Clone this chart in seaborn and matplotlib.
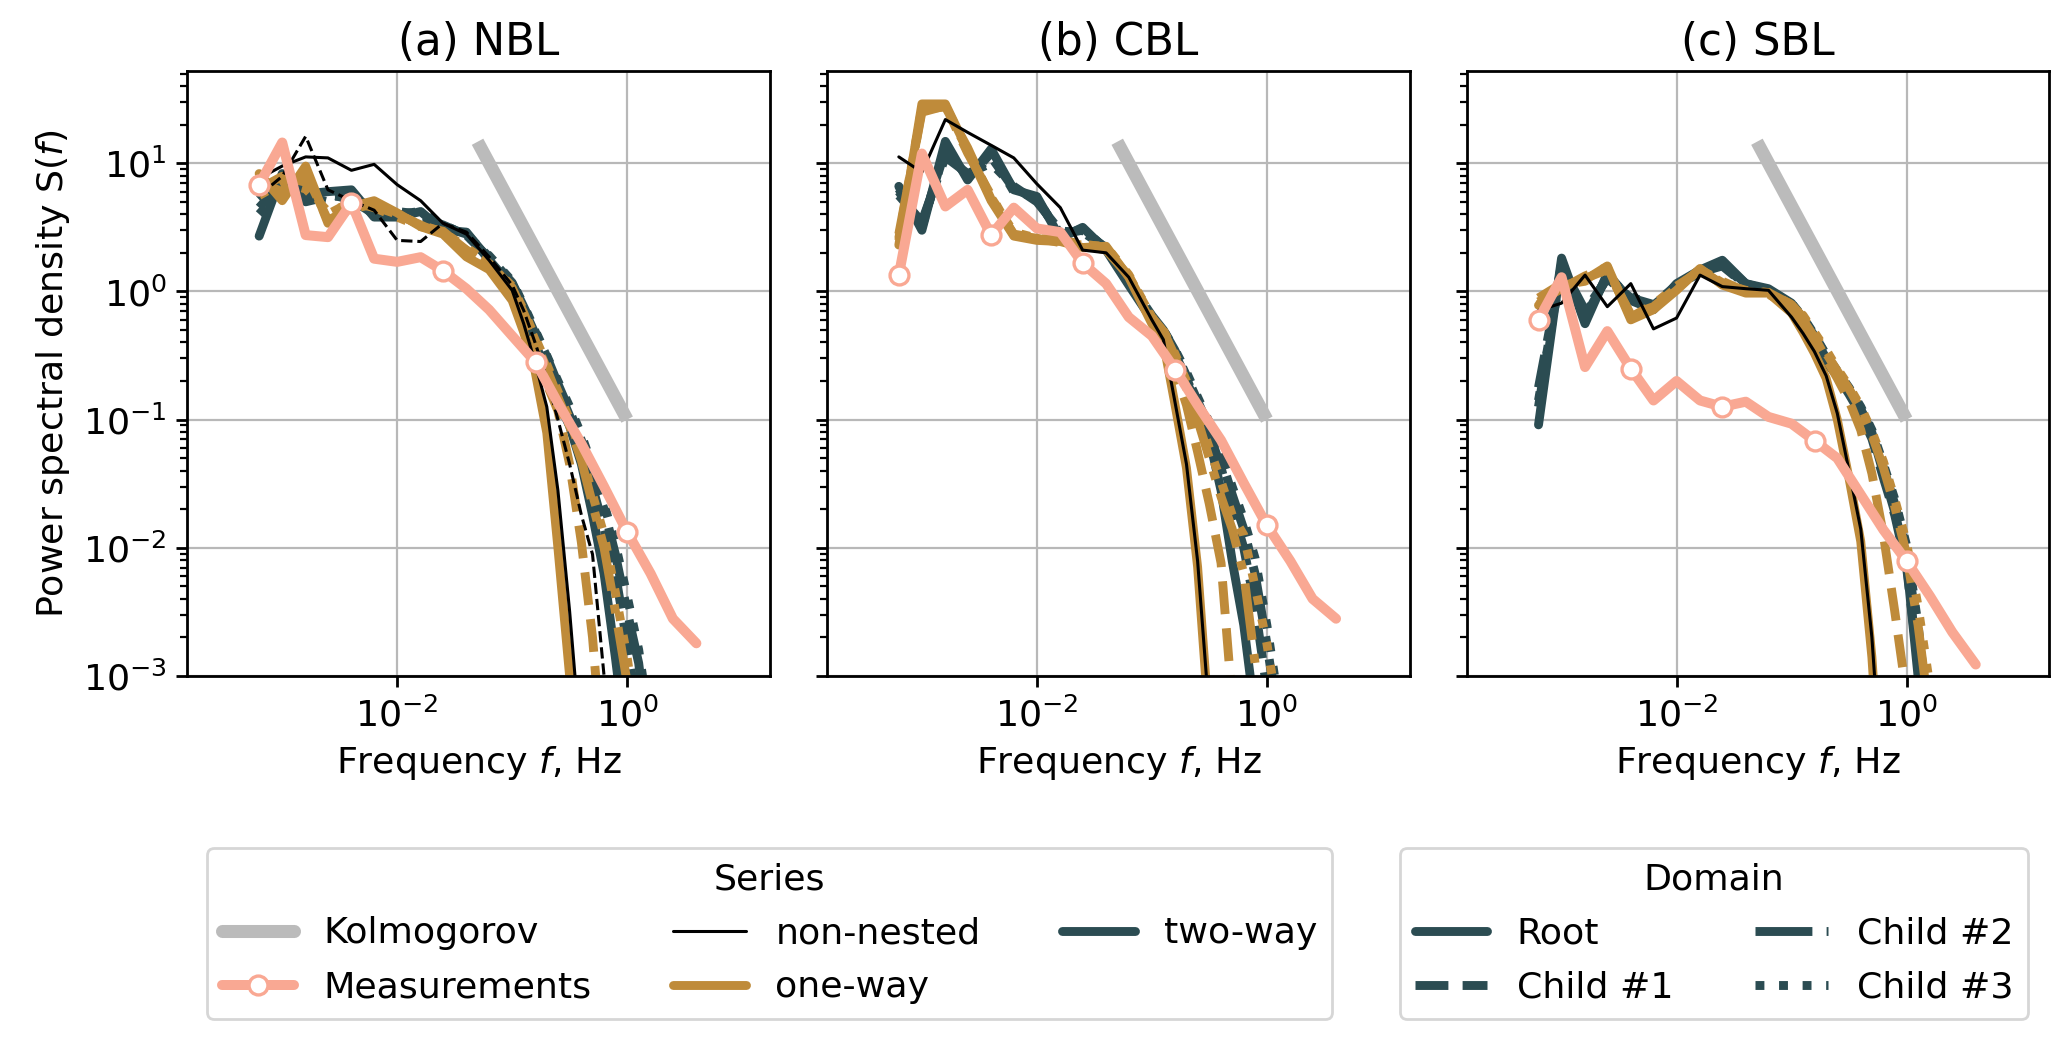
import matplotlib
matplotlib.use("Agg")
import matplotlib.pyplot as plt
from matplotlib.lines import Line2D
from matplotlib.ticker import LogLocator, NullLocator
import seaborn as sns

# frequency grids (Hz)
f_meas = [0.00063, 0.001, 0.0016, 0.0025, 0.004, 0.0063, 0.01, 0.016, 0.025, 0.04,
          0.063, 0.1, 0.16, 0.25, 0.4, 0.63, 1.0, 1.6, 2.5, 4.0]
f_model = [0.00063, 0.001, 0.0016, 0.0025, 0.004, 0.0063, 0.01, 0.016, 0.025, 0.04,
           0.063, 0.1, 0.126, 0.158, 0.2, 0.25, 0.316, 0.4, 0.5, 0.63, 0.79, 1.0, 1.26, 1.58]
f_kol = [0.05, 1.0]
kol_S = [14.7, 0.1]

# (a) NBL
nbl_meas = [6.8, 14.5, 2.75, 2.65, 4.9, 1.8, 1.7, 1.85, 1.45, 1.05, 0.72, 0.45, 0.28, 0.135,
            0.065, 0.03, 0.0133, 0.0063, 0.0028, 0.0018]
nbl_nn_root = [7.6, 9.5, 11.2, 11.0, 8.8, 9.8, 6.8, 5.1, 3.4, 2.8, 1.75, 1.02, 0.56, 0.28, 0.126,
               0.028, 3.2e-3, 2.5e-4, 1e-5, 1e-6, 1e-6, 1e-6, 1e-6, 1e-6]
nbl_nn_c1 = [5.6, 7.9, 16.2, 6.2, 5.1, 4.3, 2.5, 2.45, 3.4, 2.9, 1.86, 1.12, 0.71, 0.4, 0.21, 0.1,
             0.045, 0.018, 8.9e-3, 1e-3, 6.3e-5, 3e-6, 1e-6, 1e-6]
nbl_ow_root = [8.3, 5.1, 9.5, 3.4, 4.6, 5.1, 4.1, 3.2, 2.8, 1.86, 1.48, 0.85, 0.48, 0.24, 0.079,
               0.01, 1e-3, 5e-5, 3e-6, 1e-6, 1e-6, 1e-6, 1e-6, 1e-6]
nbl_ow_c1 = [7.1, 6.0, 8.3, 3.6, 4.4, 4.8, 4.0, 3.3, 2.75, 2.1, 1.58, 1.0, 0.6, 0.355, 0.19, 0.117,
             0.045, 0.011, 2e-3, 1.6e-4, 1e-5, 1e-6, 1e-6, 1e-6]
nbl_ow_c2 = [6.3, 7.9, 7.1, 4.0, 5.0, 4.5, 3.8, 3.2, 2.95, 2.1, 1.66, 1.07, 0.68, 0.42, 0.25, 0.15,
             0.089, 0.048, 0.022, 0.01, 3.2e-3, 8.9e-4, 1.6e-4, 1.6e-5]
nbl_ow_c3 = [5.6, 7.1, 6.3, 4.2, 4.8, 4.6, 4.0, 3.3, 2.9, 2.2, 1.66, 1.1, 0.71, 0.44, 0.27, 0.166,
             0.1, 0.054, 0.026, 0.0126, 4.5e-3, 1.4e-3, 3.2e-4, 4e-5]
nbl_tw_root = [2.7, 8.3, 5.75, 6.0, 6.2, 3.8, 3.8, 4.2, 3.0, 2.9, 1.76, 1.09, 0.66, 0.4, 0.23, 0.14,
               0.089, 0.045, 0.018, 6.3e-3, 1.4e-3, 2.5e-4, 3.2e-5, 3.2e-6]
nbl_tw_c1 = [5.2, 7.6, 5.0, 5.5, 5.6, 4.2, 4.0, 3.8, 3.3, 2.75, 1.82, 1.15, 0.74, 0.47, 0.29, 0.178,
             0.107, 0.06, 0.03, 0.014, 6.3e-3, 1.8e-3, 4.5e-4, 6.3e-5]
nbl_tw_c2 = [4.5, 7.1, 5.2, 5.75, 5.2, 4.0, 4.2, 4.0, 3.2, 2.8, 1.86, 1.17, 0.76, 0.49, 0.31, 0.19,
             0.117, 0.069, 0.038, 0.02, 8.9e-3, 3.2e-3, 1.26e-3, 2.5e-4]
nbl_tw_c3 = [4.0, 6.3, 5.5, 5.0, 5.5, 4.4, 4.0, 4.2, 3.3, 2.75, 1.9, 1.2, 0.78, 0.5, 0.316, 0.2,
             0.126, 0.076, 0.043, 0.022, 0.0107, 4.2e-3, 1.6e-3, 4e-4]

# (b) CBL
cbl_meas = [1.34, 11.9, 4.6, 6.2, 2.75, 4.5, 3.1, 2.9, 1.66, 1.15, 0.63, 0.45, 0.245, 0.13,
            0.069, 0.032, 0.015, 7.9e-3, 4e-3, 2.8e-3]
cbl_nn_root = [11.2, 8.5, 21.9, 17.4, 13.8, 11.0, 6.9, 4.5, 2.1, 2.0, 1.29, 0.6, 0.42, 0.141,
               0.045, 7.9e-3, 5e-4, 2.5e-5, 1e-6, 1e-6, 1e-6, 1e-6, 1e-6, 1e-6]
cbl_ow_root = [2.3, 29, 29, 12.6, 5.1, 2.7, 2.5, 2.45, 2.2, 2.25, 1.29, 0.56, 0.4, 0.135, 0.042,
               7.1e-3, 4e-4, 2e-5, 1e-6, 1e-6, 1e-6, 1e-6, 1e-6, 1e-6]
cbl_ow_c1 = [2.5, 26.3, 27.5, 13.2, 5.25, 2.8, 2.6, 2.5, 2.35, 2.2, 1.32, 0.6, 0.47, 0.25, 0.13,
             0.056, 0.022, 7.6e-3, 6.3e-4, 3.2e-5, 1e-6, 1e-6, 1e-6, 1e-6]
cbl_ow_c2 = [2.8, 25, 28, 12, 5.6, 2.75, 2.6, 2.4, 2.3, 2.1, 1.32, 0.63, 0.49, 0.316, 0.178, 0.1,
             0.05, 0.025, 0.014, 6.3e-3, 1.26e-3, 1.6e-4, 1.6e-5, 1e-6]
cbl_ow_c3 = [2.6, 27, 27.5, 12.6, 5.4, 2.9, 2.6, 2.5, 2.3, 2.25, 1.35, 0.63, 0.5, 0.33, 0.2, 0.112,
             0.06, 0.033, 0.018, 0.0126, 5e-3, 1.8e-3, 5e-4, 8e-5]
cbl_tw_root = [6.6, 3.0, 14.8, 7.4, 12.9, 6.2, 5.5, 2.6, 3.16, 2.1, 1.12, 0.6, 0.47, 0.316, 0.2,
               0.126, 0.071, 0.028, 7.9e-3, 2.5e-3, 5e-4, 6.3e-5, 1e-5, 1e-6]
cbl_tw_c1 = [6.0, 3.3, 12.6, 7.9, 11.2, 6.3, 5.25, 2.8, 3.0, 2.15, 1.17, 0.63, 0.49, 0.33, 0.21,
             0.13, 0.079, 0.042, 0.02, 0.01, 3.5e-3, 7.9e-4, 1.26e-4, 1.6e-5]
cbl_tw_c2 = [5.6, 3.5, 11.2, 8.3, 10, 6.6, 5.0, 2.95, 2.9, 2.2, 1.2, 0.65, 0.5, 0.35, 0.22, 0.14,
             0.087, 0.05, 0.026, 0.014, 6.3e-3, 1.8e-3, 4.5e-4, 6.3e-5]
cbl_tw_c3 = [6.3, 3.16, 13.2, 7.6, 12, 6.0, 5.4, 2.7, 3.1, 2.15, 1.15, 0.63, 0.5, 0.355, 0.234,
             0.15, 0.095, 0.055, 0.03, 0.0166, 8.3e-3, 2.5e-3, 6.3e-4, 1e-4]

# (c) SBL
sbl_meas = [0.6, 1.29, 0.257, 0.49, 0.25, 0.141, 0.2, 0.141, 0.126, 0.138, 0.105, 0.093, 0.068,
            0.05, 0.026, 0.0138, 7.9e-3, 4.2e-3, 2.2e-3, 1.23e-3]
sbl_nn_root = [0.71, 0.81, 1.34, 0.76, 1.15, 0.51, 0.62, 1.34, 1.09, 1.05, 1.02, 0.63, 0.47, 0.34,
               0.22, 0.112, 0.04, 0.014, 2e-3, 1e-4, 1e-5, 1e-6, 1e-6, 1e-6]
sbl_ow_root = [0.78, 1.1, 1.23, 1.58, 0.6, 0.72, 1.02, 1.51, 1.12, 0.97, 0.97, 0.68, 0.48, 0.33,
               0.21, 0.1, 0.035, 0.0112, 1.4e-3, 6.3e-5, 3e-6, 1e-6, 1e-6, 1e-6]
sbl_ow_c1 = [0.89, 1.15, 1.26, 1.48, 0.66, 0.76, 1.07, 1.48, 1.2, 1.0, 0.95, 0.76, 0.6, 0.44, 0.3,
             0.21, 0.141, 0.083, 0.038, 0.0126, 3.2e-3, 7.1e-4, 1e-4, 1e-5]
sbl_ow_c2 = [0.83, 1.05, 1.32, 1.55, 0.63, 0.79, 1.1, 1.45, 1.15, 1.02, 0.98, 0.79, 0.63, 0.47,
             0.33, 0.24, 0.174, 0.12, 0.076, 0.042, 0.021, 8.9e-3, 2.5e-3, 5e-4]
sbl_ow_c3 = [0.79, 1.12, 1.2, 1.51, 0.65, 0.74, 1.05, 1.48, 1.17, 1.0, 0.98, 0.79, 0.65, 0.48,
             0.35, 0.25, 0.182, 0.126, 0.081, 0.047, 0.024, 0.011, 3.5e-3, 8.9e-4]
sbl_tw_root = [0.091, 1.82, 0.56, 1.38, 0.85, 0.72, 1.15, 1.47, 1.75, 1.15, 1.05, 0.81, 0.6, 0.43,
               0.28, 0.22, 0.166, 0.12, 0.079, 0.038, 0.019, 7.9e-3, 1e-3, 1.6e-4]
sbl_tw_c1 = [0.178, 1.58, 0.71, 1.26, 0.89, 0.79, 1.12, 1.41, 1.58, 1.12, 1.0, 0.79, 0.6, 0.44,
             0.3, 0.22, 0.158, 0.11, 0.071, 0.035, 0.018, 7.1e-3, 1.26e-3, 2e-4]
sbl_tw_c2 = [0.126, 1.66, 0.63, 1.32, 0.87, 0.76, 1.12, 1.45, 1.66, 1.15, 1.02, 0.79, 0.62, 0.45,
             0.316, 0.234, 0.17, 0.12, 0.079, 0.042, 0.022, 9.5e-3, 2e-3, 3.2e-4]
sbl_tw_c3 = [0.141, 1.51, 0.66, 1.29, 0.91, 0.78, 1.1, 1.41, 1.62, 1.12, 1.02, 0.81, 0.63, 0.46,
             0.32, 0.24, 0.178, 0.126, 0.083, 0.045, 0.024, 0.0105, 2.5e-3, 4e-4]

titles = ["(a) NBL", "(b) CBL", "(c) SBL"]
domains = ["Root", "Child #1", "Child #2", "Child #3"]
dom_ls = {"Root": "-", "Child #1": "--", "Child #2": "-.", "Child #3": ":"}

panels = [
    dict(meas=nbl_meas,
         nn={"Root": nbl_nn_root, "Child #1": nbl_nn_c1},
         ow=dict(zip(domains, [nbl_ow_root, nbl_ow_c1, nbl_ow_c2, nbl_ow_c3])),
         tw=dict(zip(domains, [nbl_tw_root, nbl_tw_c1, nbl_tw_c2, nbl_tw_c3]))),
    dict(meas=cbl_meas,
         nn={"Root": cbl_nn_root},
         ow=dict(zip(domains, [cbl_ow_root, cbl_ow_c1, cbl_ow_c2, cbl_ow_c3])),
         tw=dict(zip(domains, [cbl_tw_root, cbl_tw_c1, cbl_tw_c2, cbl_tw_c3]))),
    dict(meas=sbl_meas,
         nn={"Root": sbl_nn_root},
         ow=dict(zip(domains, [sbl_ow_root, sbl_ow_c1, sbl_ow_c2, sbl_ow_c3])),
         tw=dict(zip(domains, [sbl_tw_root, sbl_tw_c1, sbl_tw_c2, sbl_tw_c3]))),
]

c_kol = "#bbbbbb"
c_meas = "#f9a893"
c_ow = "#bf8b3a"
c_tw = "#2b4c52"
c_nn = "black"

sns.set_theme(style="ticks")
fs = 13.1
plt.rcParams.update({
    "font.family": "DejaVu Sans",
    "font.size": fs,
    "axes.titlesize": fs * 1.2,
    "axes.labelsize": fs,
    "xtick.labelsize": fs,
    "ytick.labelsize": fs,
    "legend.fontsize": fs,
    "legend.title_fontsize": fs,
    "text.color": "black",
    "axes.labelcolor": "black",
    "axes.edgecolor": "black",
    "axes.linewidth": 1.0,
    "xtick.color": "black",
    "ytick.color": "black",
    "xtick.major.size": 4,
    "ytick.major.size": 4,
    "xtick.minor.size": 2.5,
    "ytick.minor.size": 2.5,
    "xtick.major.width": 1.0,
    "ytick.major.width": 1.0,
    "ytick.minor.width": 0.8,
    "mathtext.fontset": "dejavusans",
})

fig, axes = plt.subplots(1, 3, figsize=(10.335, 5.205), dpi=200, sharey=True)
fig.subplots_adjust(left=0.0907, right=0.9915, bottom=0.3506, top=0.9314, wspace=0.098)

for ax, title, p in zip(axes, titles, panels):
    ax.set_xscale("log")
    ax.set_yscale("log")
    sns.lineplot(x=f_kol, y=kol_S, ax=ax, color=c_kol, lw=4.7, solid_capstyle="butt")
    for d in domains:
        sns.lineplot(x=f_model, y=p["tw"][d], ax=ax, color=c_tw, lw=3.2, linestyle=dom_ls[d],
                     estimator=None, sort=False)
    for d in domains:
        sns.lineplot(x=f_model, y=p["ow"][d], ax=ax, color=c_ow, lw=3.2, linestyle=dom_ls[d],
                     estimator=None, sort=False)
    for d, vals in p["nn"].items():
        sns.lineplot(x=f_model, y=vals, ax=ax, color=c_nn, lw=1.1, linestyle=dom_ls[d],
                     estimator=None, sort=False)
    sns.lineplot(x=f_meas, y=p["meas"], ax=ax, color=c_meas, lw=3.6, marker="o", markersize=6.8,
                 markerfacecolor="white", markeredgecolor=c_meas, markeredgewidth=1.2,
                 markevery=4, estimator=None, sort=False)

    ax.set_xlim(1.5e-4, 17.5)
    ax.set_ylim(1e-3, 52)
    ax.set_xticks([1e-2, 1e0])
    ax.xaxis.set_minor_locator(NullLocator())
    ax.yaxis.set_minor_locator(LogLocator(base=10, subs=(2, 3, 4, 5, 6, 7, 8, 9), numticks=30))
    ax.grid(True, which="major", color="#b8b8b8", lw=0.8)
    ax.set_axisbelow(True)
    ax.set_title(title)
    ax.set_xlabel("Frequency $f$, Hz")
    ax.set_ylabel("")

axes[0].set_ylabel("Power spectral density S($f$)")

series_handles = [
    Line2D([], [], color=c_kol, lw=4.7),
    Line2D([], [], color=c_meas, lw=3.6, marker="o", markersize=6.8, markerfacecolor="white",
           markeredgecolor=c_meas, markeredgewidth=1.2),
    Line2D([], [], color=c_nn, lw=1.1),
    Line2D([], [], color=c_ow, lw=3.2),
    Line2D([], [], color=c_tw, lw=3.2),
]
series_labels = ["Kolmogorov", "Measurements", "non-nested", "one-way", "two-way"]
fig.legend(series_handles, series_labels, title="Series", ncol=3, loc="center",
           bbox_to_anchor=(0.3723, 0.1033), frameon=True, numpoints=1,
           columnspacing=2.25, labelspacing=0.55)

domain_handles = [Line2D([], [], color=c_tw, lw=3.2, linestyle=dom_ls[d]) for d in domains]
fig.legend(domain_handles, domains, title="Domain", ncol=2, loc="center",
           bbox_to_anchor=(0.8292, 0.1033), frameon=True,
           columnspacing=2.25, labelspacing=0.55)

fig.savefig("out.png", dpi=200)
